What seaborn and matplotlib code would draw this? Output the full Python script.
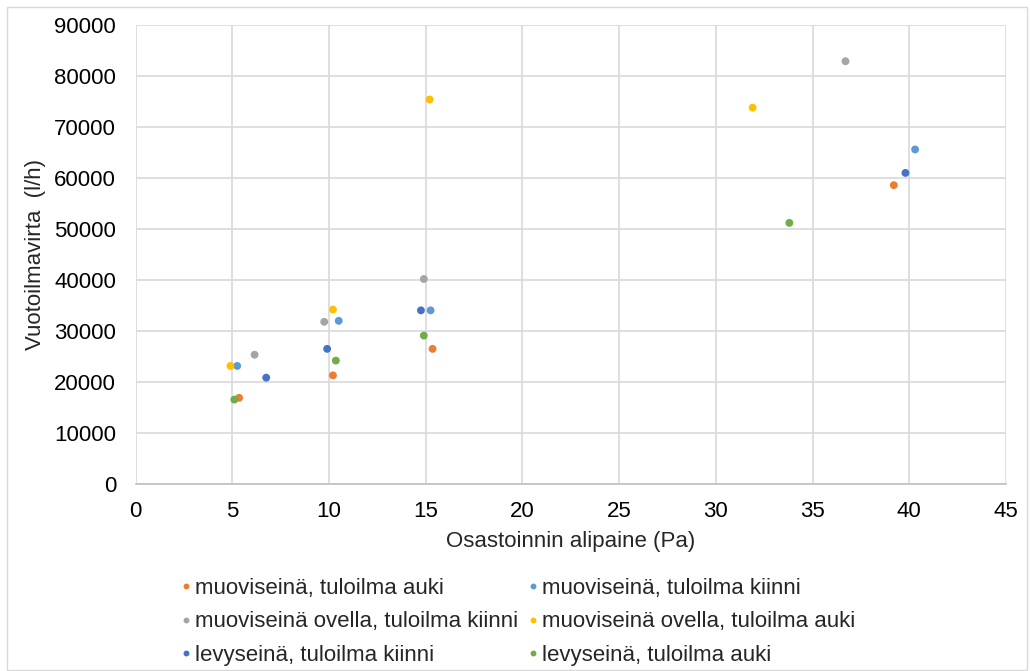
import pandas as pd
import matplotlib.pyplot as plt
import seaborn as sns
from matplotlib.patches import Rectangle

# Sarjojen nimet ja värit
sarjat = [
    "muoviseinä, tuloilma auki",
    "muoviseinä, tuloilma kiinni",
    "muoviseinä ovella, tuloilma kiinni",
    "muoviseinä ovella, tuloilma auki",
    "levyseinä, tuloilma kiinni",
    "levyseinä, tuloilma auki",
]
varit = ["#ED7D31", "#5B9BD5", "#A5A5A5", "#FFC000", "#4472C4", "#70AD47"]

# Alipaine (Pa) ja vuotoilmavirta (l/h) sarjoittain
alipaine = [
    [5.35, 10.2, 15.35, 39.2],
    [5.25, 10.5, 15.25, 40.3],
    [6.15, 9.75, 14.9, 36.7],
    [4.9, 10.2, 15.2, 31.9],
    [6.75, 9.9, 14.75, 39.8],
    [5.1, 10.35, 14.9, 33.8],
]
virta = [
    [16900, 21300, 26500, 58600],
    [23150, 32000, 34050, 65600],
    [25350, 31800, 40200, 82900],
    [23150, 34200, 75400, 73800],
    [20850, 26500, 34050, 61000],
    [16550, 24200, 29100, 51200],
]

rivit = []
for nimi, xs, ys in zip(sarjat, alipaine, virta):
    for x, y in zip(xs, ys):
        rivit.append({"Sarja": nimi, "Alipaine": x, "Virta": y})
df = pd.DataFrame(rivit)

sns.set_style("white")
plt.rcParams["font.family"] = ["Liberation Sans", "DejaVu Sans"]
fs = 16

fig = plt.figure(figsize=(10.3, 6.71), dpi=100)
ax = fig.add_axes([0.1317, 0.2787, 0.845, 0.684])

sns.scatterplot(data=df, x="Alipaine", y="Virta", hue="Sarja", hue_order=sarjat,
                palette=dict(zip(sarjat, varit)), s=32, linewidth=0, ax=ax, zorder=3)

ax.set_xlim(0, 45)
ax.set_ylim(0, 90000)
ax.set_xticks(range(0, 46, 5))
ax.set_yticks(range(0, 90001, 10000))
ax.grid(True, color="#D9D9D9", linewidth=1.2)
ax.set_axisbelow(True)
for s in ["top", "right", "left"]:
    ax.spines[s].set_visible(False)
ax.spines["bottom"].set_color("#BFBFBF")
ax.spines["bottom"].set_linewidth(1.2)
ax.tick_params(axis="both", length=0, labelsize=fs, colors="black")
ax.tick_params(axis="x", pad=12)
ax.tick_params(axis="y", pad=14)

ax.set_xlabel("Osastoinnin alipaine (Pa)", fontsize=fs, labelpad=7)
ax.set_ylabel("Vuotoilmavirta  (l/h)", fontsize=fs, labelpad=6)

# Selite: rivit järjestyksessä kuten alkuperäisessä
kahvat, tekstit = ax.get_legend_handles_labels()
jarj = [0, 2, 4, 1, 3, 5]
ax.legend([kahvat[i] for i in jarj], [tekstit[i] for i in jarj],
          loc="upper left", bbox_to_anchor=(0.05, -0.205), ncol=2, frameon=False,
          fontsize=fs, handlelength=0.6, handletextpad=0.12, columnspacing=0.35,
          labelspacing=0.55, markerscale=0.75, borderaxespad=0, borderpad=0)

fig.patches.append(Rectangle((0.007, 0.002), 0.99, 0.988, transform=fig.transFigure,
                             fill=False, edgecolor="#D9D9D9", linewidth=1))

fig.savefig("out.png", dpi=100)
